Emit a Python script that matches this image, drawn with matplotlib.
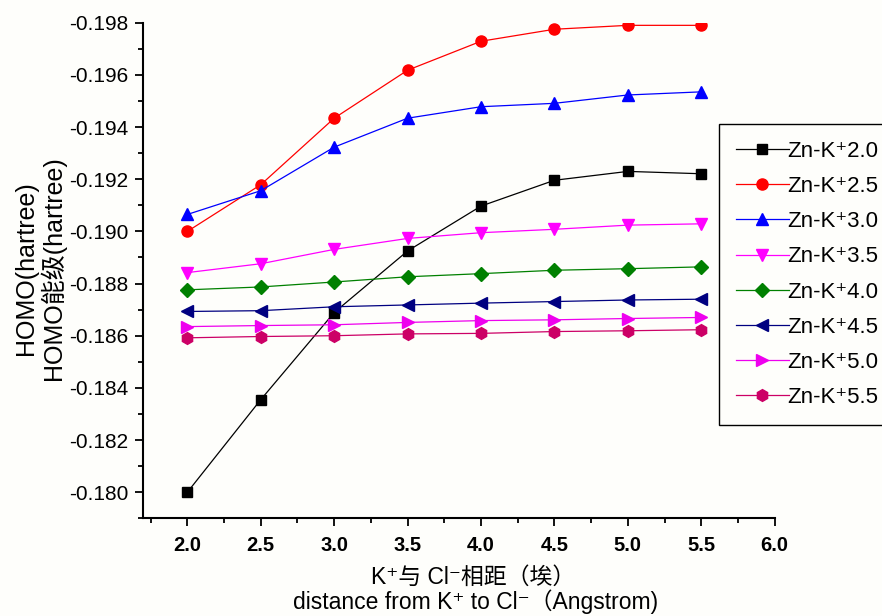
import matplotlib
matplotlib.use('Agg')
import matplotlib.pyplot as plt
from matplotlib.ticker import MultipleLocator, FormatStrFormatter

plt.rcParams['font.family'] = ['Liberation Sans', 'Noto Sans CJK SC', 'DejaVu Sans']
plt.rcParams['axes.unicode_minus'] = False

# distance K+ to Cl- (Angstrom)
distance = [2.0, 2.5, 3.0, 3.5, 4.0, 4.5, 5.0, 5.5]

# HOMO energies (hartree), one series per Zn-K+ distance
homo_20 = [-0.1800, -0.18355, -0.18689, -0.18925, -0.19097, -0.19196, -0.19230, -0.19221]
homo_25 = [-0.1900, -0.19179, -0.19434, -0.19618, -0.19729, -0.19775, -0.19790, -0.19790]
homo_30 = [-0.19065, -0.19156, -0.19323, -0.19434, -0.19478, -0.19491, -0.19523, -0.19535]
homo_35 = [-0.18842, -0.18876, -0.18931, -0.18973, -0.18995, -0.19008, -0.19024, -0.19029]
homo_40 = [-0.18776, -0.18787, -0.18806, -0.18826, -0.18838, -0.18851, -0.18857, -0.18864]
homo_45 = [-0.18693, -0.18696, -0.18711, -0.18718, -0.18725, -0.18731, -0.18737, -0.18740]
homo_50 = [-0.18635, -0.18639, -0.18642, -0.18651, -0.18658, -0.18661, -0.18666, -0.18670]
homo_55 = [-0.18592, -0.18597, -0.18600, -0.18607, -0.18609, -0.18616, -0.18619, -0.18623]

labels = ['Zn-K⁺2.0', 'Zn-K⁺2.5', 'Zn-K⁺3.0', 'Zn-K⁺3.5',
          'Zn-K⁺4.0', 'Zn-K⁺4.5', 'Zn-K⁺5.0', 'Zn-K⁺5.5']
series = [homo_20, homo_25, homo_30, homo_35, homo_40, homo_45, homo_50, homo_55]
colors = ['#000000', '#FF0000', '#0000FF', '#FF00FF', '#008000', '#000080', '#EE00EE', '#CC0066']
markers = ['s', 'o', '^', 'v', 'D', '<', '>', 'h']
msizes = [7.5, 8, 9, 9, 7, 9, 9, 8.5]

bg = '#FEFEFB'
fig = plt.figure(figsize=(8.82, 6.16), dpi=100, facecolor=bg)
ax = fig.add_axes([0.1625, 0.1586, 0.8783 - 0.1625, 0.9631 - 0.1586])
ax.set_facecolor(bg)

lines = []
for ys, lab, c, m, ms in zip(series, labels, colors, markers, msizes):
    ln, = ax.plot(distance, ys, color=c, lw=0.9, marker=m, ms=ms,
                  markerfacecolor=c, markeredgecolor=c, label=lab)
    lines.append(ln)

ax.set_xlim(1.7, 6.0)
ax.set_ylim(-0.1790, -0.1980)
ax.xaxis.set_major_locator(MultipleLocator(0.5))
ax.xaxis.set_minor_locator(MultipleLocator(0.25))
ax.yaxis.set_major_locator(MultipleLocator(0.002))
ax.yaxis.set_minor_locator(MultipleLocator(0.001))
ax.xaxis.set_major_formatter(FormatStrFormatter('%.1f'))
ax.yaxis.set_major_formatter(FormatStrFormatter('%.3f'))

for s in ['top', 'right']:
    ax.spines[s].set_visible(False)
for s in ['left', 'bottom']:
    ax.spines[s].set_linewidth(1.5)

ax.tick_params(which='major', direction='out', length=6, width=1.3)
ax.tick_params(which='minor', direction='out', length=3.5, width=1.3)
ax.tick_params(axis='y', labelsize=15, pad=5)
ax.tick_params(axis='x', labelsize=14.5, pad=7)
for t in ax.get_xticklabels():
    t.set_fontweight('bold')

# axis titles
fig.text(26 / 882, 1 - 268 / 616, 'HOMO(hartree)', rotation=90,
         ha='center', va='center', fontsize=18)
fig.text(53 / 882, 1 - 268 / 616, 'HOMO能级(hartree)', rotation=90,
         ha='center', va='center', fontsize=18)
fig.text(473 / 882, 1 - 577 / 616, 'K⁺与 Cl⁻相距（埃）',
         ha='center', va='center', fontsize=16.5)
fig.text(476 / 882, 1 - 602 / 616, 'distance from K⁺ to Cl⁻（Angstrom)',
         ha='center', va='center', fontsize=16.5)

leg = fig.legend(handles=lines, loc='upper left',
                 bbox_to_anchor=(719 / 882, 1 - 124 / 616),
                 fontsize=16, numpoints=1, handlelength=2.4,
                 handletextpad=-0.1, labelspacing=0.64, borderpad=0.75,
                 borderaxespad=0, fancybox=False, framealpha=1)
leg.get_frame().set_edgecolor('black')
leg.get_frame().set_linewidth(1.0)
leg.get_frame().set_facecolor(bg)

fig.savefig('out.png', dpi=100, facecolor=bg)
